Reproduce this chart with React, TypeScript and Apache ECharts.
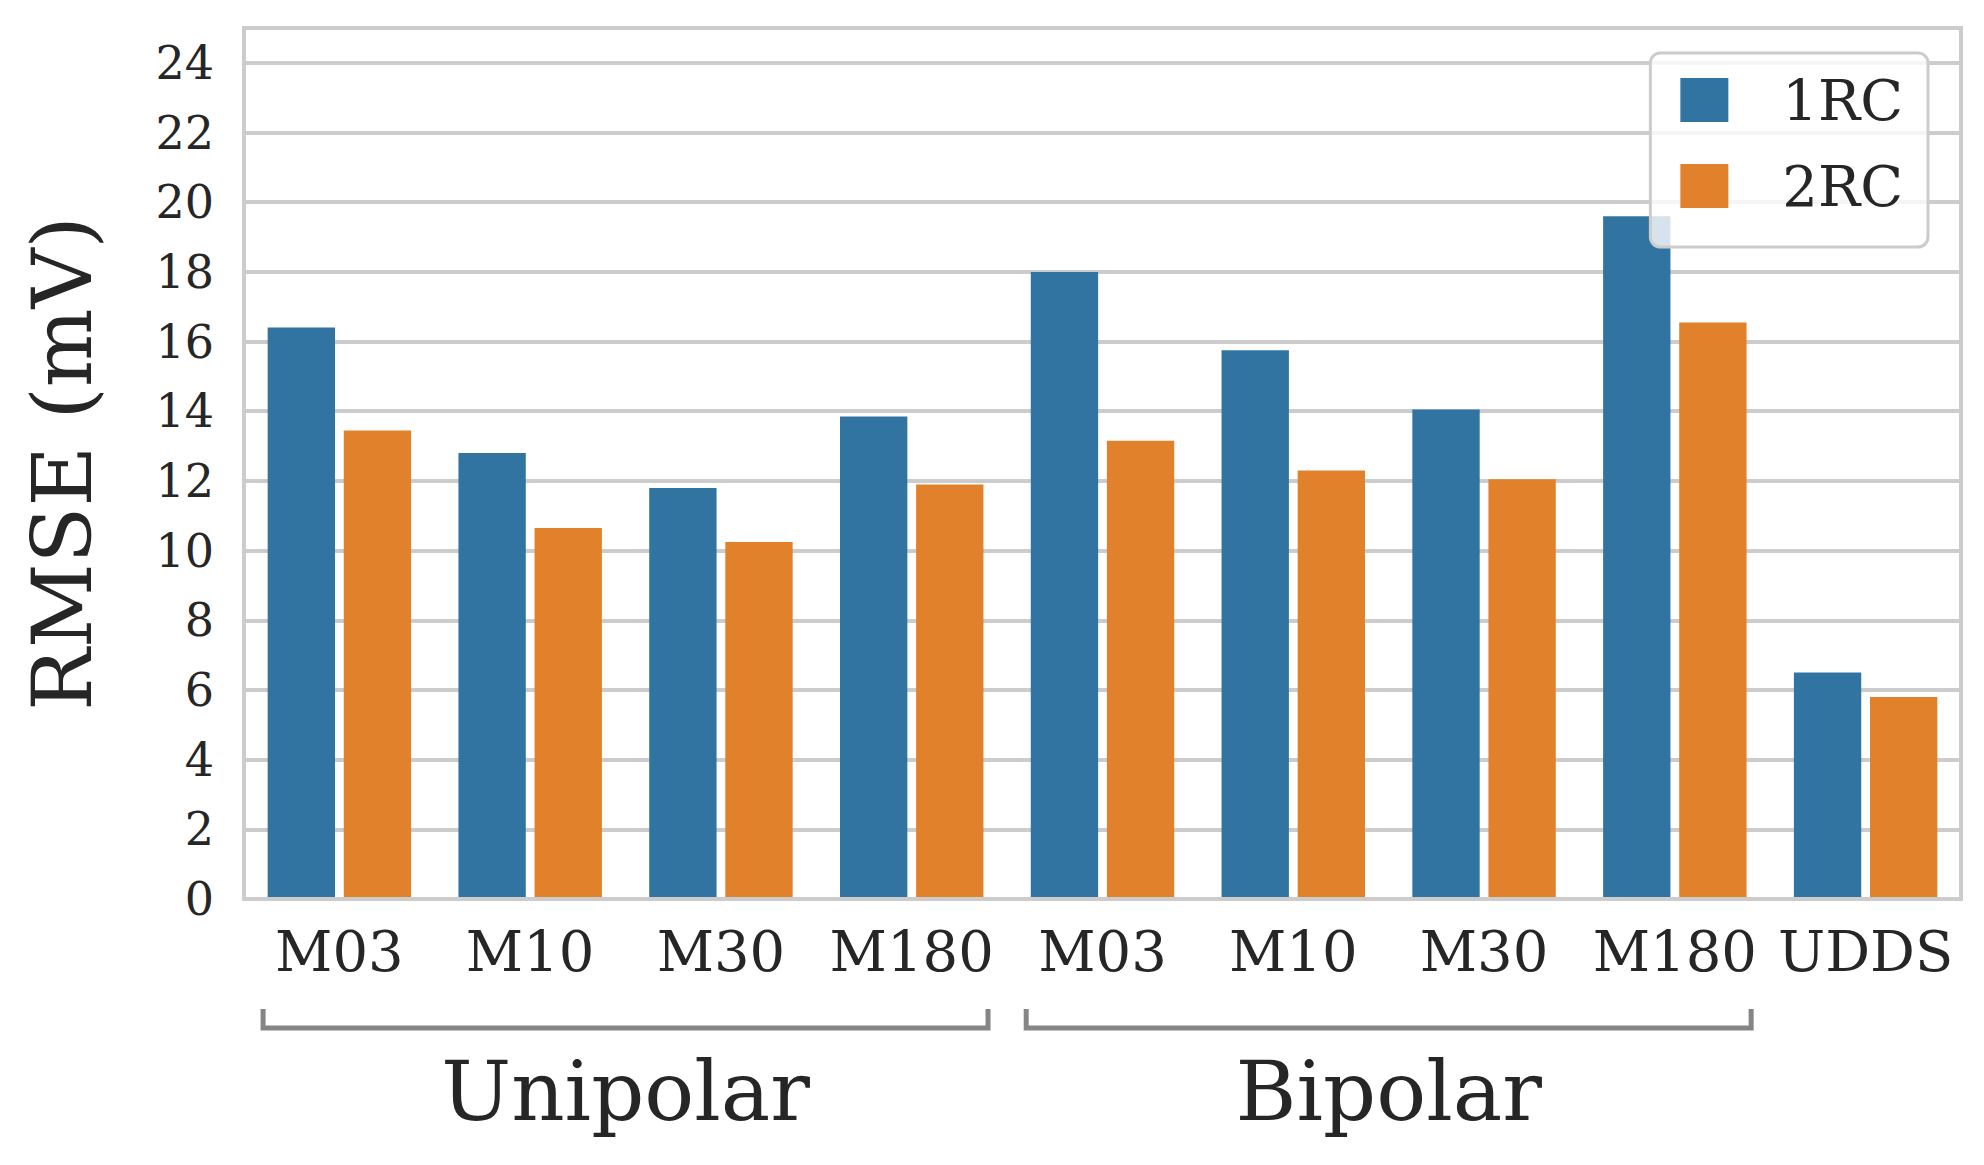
import * as echarts from 'echarts';
import { useEffect, useRef } from 'react';

const categories = ['M03', 'M10', 'M30', 'M180', 'M03', 'M10', 'M30', 'M180', 'UDDS'];
const seriesNames = ['1RC', '2RC'];
const rc1Values = [16.4, 12.8, 11.8, 13.85, 18.0, 15.75, 14.05, 19.6, 6.5];
const rc2Values = [13.45, 10.65, 10.25, 11.9, 13.15, 12.3, 12.05, 16.55, 5.8];
const groupNames = ['Unipolar', 'Bipolar'];
const groupStart = [0, 4];
const groupEnd = [3, 7];

const FONT = '"DejaVu Serif", serif';
const TEXT = '#262626';

export default function App() {
  const chartRef = useRef<HTMLDivElement>(null);

  useEffect(() => {
    if (!chartRef.current) return;
    const chart = echarts.init(chartRef.current, undefined, { renderer: 'svg' });

    chart.setOption({
      animation: false,
      backgroundColor: '#ffffff',
      grid: {
        left: 244,
        right: 23,
        top: 28,
        bottom: 266,
        show: true,
        borderColor: '#cccccc',
        borderWidth: 4,
        backgroundColor: 'transparent',
      },
      legend: {
        data: seriesNames,
        orient: 'vertical',
        right: 56,
        top: 53,
        padding: [19, 25, 33, 30],
        itemGap: 30,
        itemWidth: 48,
        itemHeight: 44,
        icon: 'rect',
        borderColor: '#cccccc',
        borderWidth: 3,
        borderRadius: 10,
        backgroundColor: 'rgba(255,255,255,0.8)',
        textStyle: {
          fontFamily: FONT,
          fontSize: 56,
          color: TEXT,
          lineHeight: 44,
          padding: [0, 0, 0, 49],
        },
      },
      xAxis: {
        type: 'category',
        data: categories,
        z: 3,
        axisLine: { show: true, lineStyle: { color: '#cccccc', width: 4 } },
        axisTick: { show: false },
        axisLabel: {
          fontFamily: FONT,
          fontSize: 56,
          color: TEXT,
          margin: 24,
          interval: 0,
        },
      },
      yAxis: {
        type: 'value',
        min: 0,
        max: 25,
        interval: 2,
        name: 'RMSE (mV)',
        nameLocation: 'middle',
        nameGap: 140,
        nameTextStyle: { fontFamily: FONT, fontSize: 83, color: TEXT },
        axisLine: { show: false },
        axisTick: { show: false },
        axisLabel: {
          fontFamily: FONT,
          fontSize: 46,
          color: TEXT,
          margin: 30,
          showMaxLabel: false,
        },
        splitLine: { lineStyle: { color: '#cccccc', width: 4 } },
      },
      series: [
        {
          name: '1RC',
          type: 'bar',
          data: rc1Values,
          barWidth: '35.3%',
          barGap: '13%',
          itemStyle: { color: '#3274a1' },
        },
        {
          name: '2RC',
          type: 'bar',
          data: rc2Values,
          barWidth: '35.3%',
          barGap: '13%',
          itemStyle: { color: '#e1812c' },
        },
        {
          type: 'custom',
          clip: false,
          silent: true,
          data: groupStart.map((s, i) => [s, groupEnd[i]]),
          renderItem: (params: any, api: any) => {
            const p0 = api.coord([api.value(0), 0]);
            const p1 = api.coord([api.value(1), 0]);
            const half = api.size([1, 0])[0] * 0.4;
            const x0 = p0[0] - half;
            const x1 = p1[0] + half;
            const yLine = p0[1] + 129;
            const yTop = p0[1] + 110;
            return {
              type: 'group',
              children: [
                {
                  type: 'polyline',
                  shape: { points: [[x0, yTop], [x0, yLine], [x1, yLine], [x1, yTop]] },
                  style: { stroke: '#858585', lineWidth: 5, fill: 'none' },
                },
                {
                  type: 'text',
                  x: (x0 + x1) / 2,
                  y: p0[1] + 192,
                  style: {
                    text: groupNames[params.dataIndex],
                    fontFamily: FONT,
                    fontSize: 83,
                    fill: TEXT,
                    align: 'center',
                    verticalAlign: 'middle',
                  },
                },
              ],
            };
          },
        },
      ],
    });

    return () => {
      chart.dispose();
    };
  }, []);

  return (
    <div
      ref={chartRef}
      style={{ position: 'fixed', left: 0, top: 0, width: '1984px', height: '1165px' }}
    />
  );
}
